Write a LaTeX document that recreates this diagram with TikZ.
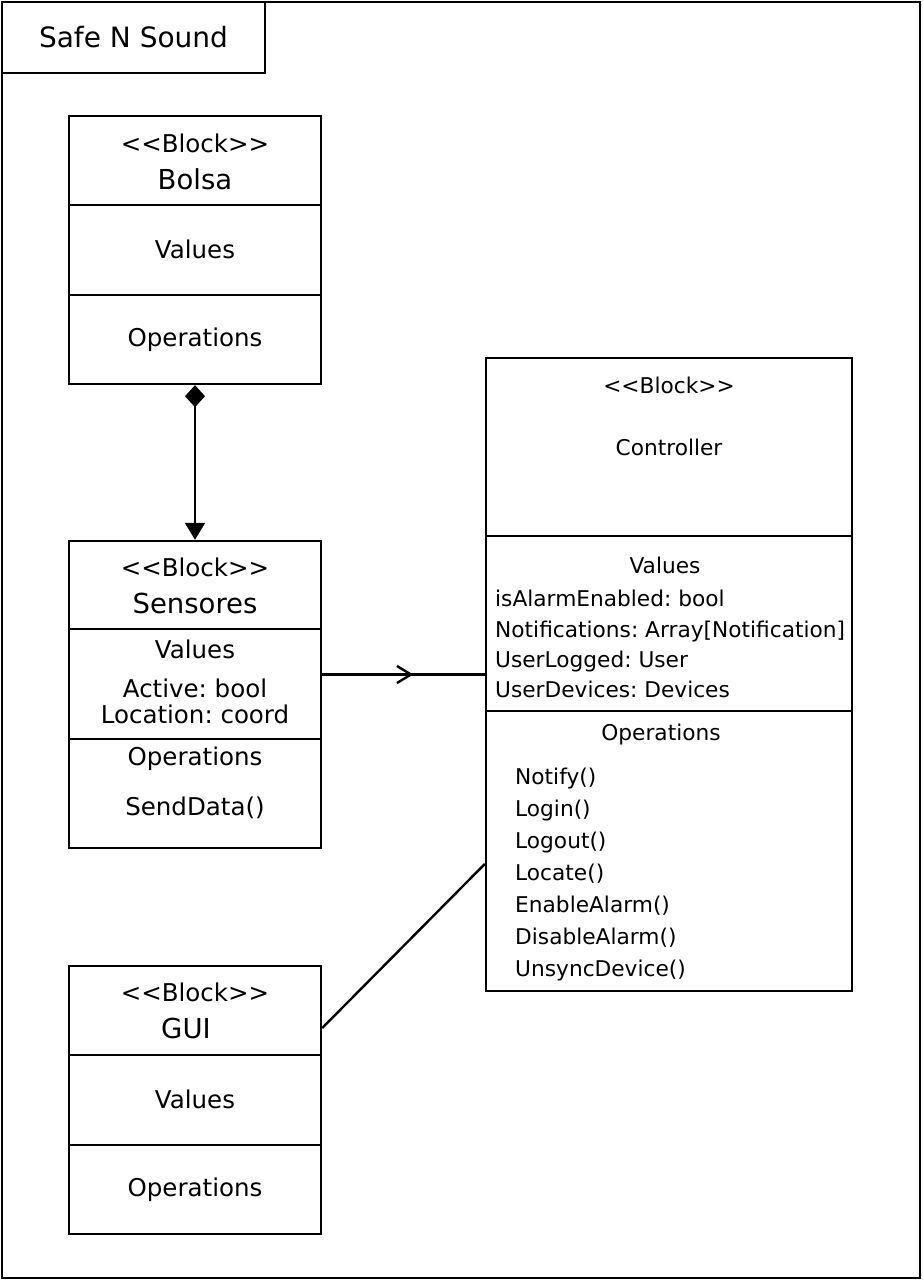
\documentclass[tikz,border=0pt]{standalone}
\usepackage{fontspec}
\setmainfont{DejaVu Sans}[Ligatures=TeXOff]
\usetikzlibrary{arrows.meta,decorations.markings}
\frenchspacing

\begin{document}
\begin{tikzpicture}[x=1pt,y=-1pt,line width=2.4pt,
  blkbox/.style={draw,rectangle,inner sep=0pt},
  midtxt/.style={inner sep=0pt,text depth=0pt,text height=17.9pt,font=\fontsize{24.5}{29}\selectfont},
  bigtxt/.style={inner sep=0pt,text depth=0pt,text height=20pt,font=\fontsize{27.5}{32}\selectfont},
  smalltxt/.style={inner sep=0pt,text depth=0pt,text height=15.8pt,font=\fontsize{21.7}{26}\selectfont},
  listtxt/.style={smalltxt,anchor=west}]
\useasboundingbox (0,0) rectangle (922,1280);

% outer frame and title tab
\node[blkbox,minimum width=918pt,minimum height=1276pt] (frame) at (461,640) {};
\node[blkbox,minimum width=263pt,minimum height=71pt,
      font=\fontsize{28}{33}\selectfont] (title) at (133.5,37.5) {Safe N Sound};

% Bolsa
\node[blkbox,minimum width=252pt,minimum height=268pt] (bolsa) at (195,250) {};
\draw (bolsa.west |- 0,205) -- (bolsa.east |- 0,205);
\draw (bolsa.west |- 0,295) -- (bolsa.east |- 0,295);
\node[midtxt] (bolsaS) at (195,143.5) {<<Block>>};
\node[bigtxt] (bolsaN) at (195,179) {Bolsa};
\node[midtxt] (bolsaV) at (195,250) {Values};
\node[midtxt] (bolsaO) at (195,338) {Operations};

% Sensores
\node[blkbox,minimum width=252pt,minimum height=307pt] (sens) at (195,694.5) {};
\draw (sens.west |- 0,629) -- (sens.east |- 0,629);
\draw (sens.west |- 0,739) -- (sens.east |- 0,739);
\node[midtxt] (sensS) at (195,567.5) {<<Block>>};
\node[bigtxt] (sensN) at (195,603) {Sensores};
\node[midtxt] (sensV) at (195,650) {Values};
\node[midtxt] (sensA) at (195,688.5) {Active: bool};
\node[midtxt] (sensL) at (195,715) {Location: coord};
\node[midtxt] (sensO) at (195,756.5) {Operations};
\node[midtxt] (sensD) at (195,807) {SendData()};

% GUI
\node[blkbox,minimum width=252pt,minimum height=268pt] (gui) at (195,1100) {};
\draw (gui.west |- 0,1055) -- (gui.east |- 0,1055);
\draw (gui.west |- 0,1145) -- (gui.east |- 0,1145);
\node[midtxt] (guiS) at (195,992.5) {<<Block>>};
\node[bigtxt] (guiN) at (186,1028) {GUI};
\node[midtxt] (guiV) at (195,1100) {Values};
\node[midtxt] (guiO) at (195,1188) {Operations};

% Controller
\node[blkbox,minimum width=366pt,minimum height=633pt] (ctrl) at (669,674.5) {};
\draw (ctrl.west |- 0,536) -- (ctrl.east |- 0,536);
\draw (ctrl.west |- 0,711) -- (ctrl.east |- 0,711);
\node[smalltxt] (ctrlS) at (669,386) {<<Block>>};
\node[smalltxt] (ctrlN) at (669,448) {Controller};
\node[smalltxt] (ctrlV) at (665,566) {Values};
\node[listtxt] (v1) at (494,599) {isAlarmEnabled: bool};
\node[listtxt] (v2) at (494,630) {Notifications: Array[Notification]};
\node[listtxt] (v3) at (494,660) {UserLogged: User};
\node[listtxt] (v4) at (494,690) {UserDevices: Devices};
\node[smalltxt] (ctrlO) at (661,733) {Operations};
\node[listtxt] (o1) at (514,776.5) {Notify()};
\node[listtxt] (o2) at (514,808.5) {Login()};
\node[listtxt] (o3) at (514,840.5) {Logout()};
\node[listtxt] (o4) at (514,872.5) {Locate()};
\node[listtxt] (o5) at (514,904.5) {EnableAlarm()};
\node[listtxt] (o6) at (514,936.5) {DisableAlarm()};
\node[listtxt] (o7) at (514,968.5) {UnsyncDevice()};

% connectors
\draw[{Diamond[length=22pt,width=20pt]}-{Triangle[length=17pt,width=20pt]}]
  (bolsa.south) -- (sens.north);
\draw[decoration={markings,mark=at position 0.56 with
      {\arrow{Straight Barb[length=14pt,width=17pt]}}},postaction=decorate]
  (ctrl.west -| sens.east) -- (ctrl.west);
\draw ([yshift=72pt]gui.east) -- ([yshift=-189.5pt]ctrl.west);
\end{tikzpicture}
\end{document}
